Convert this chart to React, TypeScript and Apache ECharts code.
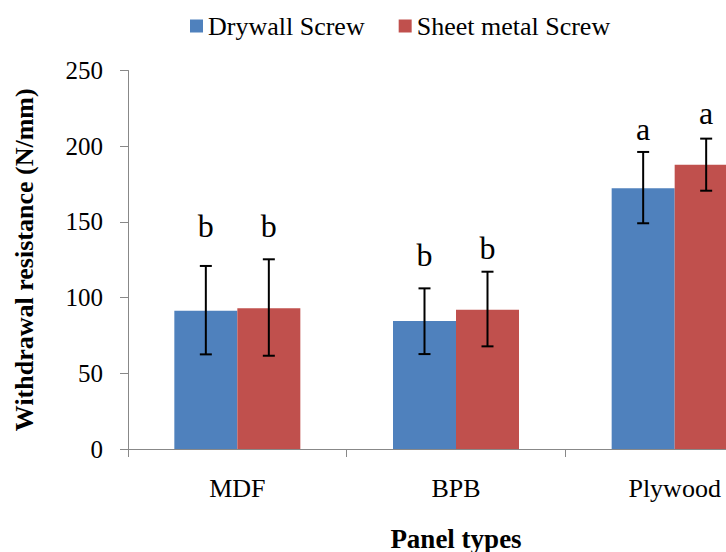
import React, { useEffect, useRef } from "react";
import * as echarts from "echarts";

const categories = ["MDF", "BPB", "Plywood"];
const seriesNames = ["Drywall Screw", "Sheet metal Screw"];
const drywall = [91.3, 84.5, 172.2];
const sheetMetal = [92.9, 92, 187.8];
const drywallErrLow = [62.5, 62.7, 149.1];
const drywallErrHigh = [120.9, 106.1, 196.2];
const sheetErrLow = [61.6, 67.8, 170.6];
const sheetErrHigh = [125.3, 117.1, 205];
const drywallLetters = ["b", "b", "a"];
const sheetLetters = ["b", "b", "a"];
// baseline position (in axis units) of the significance letters
const drywallLetterPos = [140, 121, 204.5];
const sheetLetterPos = [140, 125.5, 214.5];
const yTicks = { min: 0, max: 250, interval: 50 };

const FONT = '"Liberation Serif", "Times New Roman", serif';
const BLUE = "#4F81BD";
const RED = "#C0504D";
const BAR_W = 63;
const LETTER_SIZE = 32;

function errSeries(idx: number, low: number[], high: number[], letters: string[], letterPos: number[]) {
  const dir = idx === 0 ? -1 : 1;
  return {
    type: "custom",
    name: "err" + idx,
    z: 10,
    silent: true,
    clip: false,
    data: categories.map((_, i) => [i, low[i], high[i], letterPos[i]]),
    renderItem: (params: any, api: any) => {
      const i = api.value(0);
      const lo = api.coord([i, api.value(1)]);
      const hi = api.coord([i, api.value(2)]);
      const lp = api.coord([i, api.value(3)]);
      const x = lo[0] + (dir * BAR_W) / 2;
      const cap = 6;
      const st = { stroke: "#000", lineWidth: 2 };
      return {
        type: "group",
        children: [
          { type: "line", shape: { x1: x, y1: hi[1], x2: x, y2: lo[1] }, style: st },
          { type: "line", shape: { x1: x - cap, y1: hi[1], x2: x + cap, y2: hi[1] }, style: st },
          { type: "line", shape: { x1: x - cap, y1: lo[1], x2: x + cap, y2: lo[1] }, style: st },
          {
            type: "text",
            x: x,
            y: lp[1] - LETTER_SIZE * 0.34,
            style: {
              text: letters[params.dataIndex],
              fill: "#000",
              font: LETTER_SIZE + "px " + FONT,
              align: "center",
              verticalAlign: "middle",
            },
          },
        ],
      };
    },
  };
}

export default function App() {
  const ref = useRef<HTMLDivElement>(null);
  useEffect(() => {
    document.body.style.margin = "0";
    if (!ref.current) return;
    const chart = echarts.init(ref.current, null, { renderer: "svg" });
    chart.setOption({
      animation: false,
      backgroundColor: "#fff",
      textStyle: { fontFamily: FONT },
      legend: {
        data: seriesNames,
        top: 8,
        left: 185,
        itemWidth: 13,
        itemHeight: 13,
        itemGap: 34,
        icon: "rect",
        textStyle: { fontFamily: FONT, fontSize: 26, color: "#000" },
      },
      grid: {
        left: 128,
        width: 656,
        top: 70.5,
        height: 378.5,
        containLabel: false,
        outerBoundsMode: "none",
      },
      xAxis: {
        type: "category",
        data: categories,
        axisLine: { lineStyle: { color: "#888888", width: 1 } },
        axisTick: { show: true, length: 8, lineStyle: { color: "#888888" } },
        axisLabel: { fontFamily: FONT, fontSize: 26, color: "#000", margin: 26 },
        name: "Panel types",
        nameLocation: "middle",
        nameGap: 76,
        nameTextStyle: { fontFamily: FONT, fontSize: 27, fontWeight: "bold", color: "#000" },
      },
      yAxis: {
        type: "value",
        min: yTicks.min,
        max: yTicks.max,
        interval: yTicks.interval,
        splitLine: { show: false },
        axisLine: { show: true, lineStyle: { color: "#888888", width: 1 } },
        axisTick: { show: true, length: 8, lineStyle: { color: "#888888" } },
        axisLabel: { fontFamily: FONT, fontSize: 25, color: "#000", margin: 25 },
        name: "Withdrawal resistance (N/mm)",
        nameLocation: "middle",
        nameGap: 91,
        nameTextStyle: { fontFamily: FONT, fontSize: 26, fontWeight: "bold", color: "#000" },
      },
      series: [
        {
          type: "bar",
          name: seriesNames[0],
          data: drywall,
          barWidth: BAR_W,
          barGap: "0%",
          itemStyle: { color: BLUE },
        },
        {
          type: "bar",
          name: seriesNames[1],
          data: sheetMetal,
          barWidth: BAR_W,
          barGap: "0%",
          itemStyle: { color: RED },
        },
        errSeries(0, drywallErrLow, drywallErrHigh, drywallLetters, drywallLetterPos),
        errSeries(1, sheetErrLow, sheetErrHigh, sheetLetters, sheetLetterPos),
      ],
    });
    return () => chart.dispose();
  }, []);
  return <div ref={ref} style={{ width: 726, height: 552 }} />;
}
